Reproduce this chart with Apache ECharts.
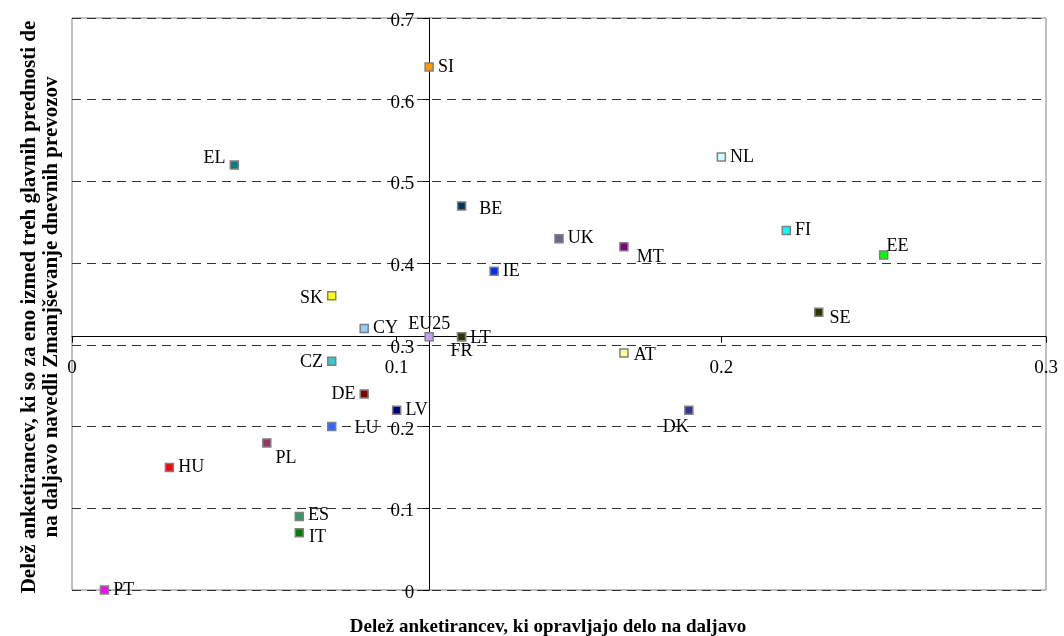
<!DOCTYPE html>
<html><head><meta charset="utf-8">
<script src="https://cdn.jsdelivr.net/npm/echarts@6/dist/echarts.min.js"></script>
<style>html,body{margin:0;padding:0;background:#fff}#c{width:1064px;height:636px}</style>
</head><body><div id="c"></div>
<script>
// ---- data ----
const countries = ['SI','EL','NL','BE','UK','FI','MT','EE','IE','SK','SE','CY','EU25','LT','FR','CZ','AT','DE','LV','DK','LU','PL','HU','ES','IT','PT'];
const shareTeleworkers = [0.11,0.05,0.20,0.12,0.15,0.22,0.17,0.25,0.13,0.08,0.23,0.09,0.11,0.12,0.12,0.08,0.17,0.09,0.10,0.19,0.08,0.06,0.03,0.07,0.07,0.01];
const shareLessCommuting = [0.64,0.52,0.53,0.47,0.43,0.44,0.42,0.41,0.39,0.36,0.34,0.32,0.31,0.31,0.31,0.28,0.29,0.24,0.22,0.22,0.20,0.18,0.15,0.09,0.07,0.00];
const xTicks = [0, 0.1, 0.2, 0.3];
const yTicks = [0, 0.1, 0.2, 0.3, 0.4, 0.5, 0.6, 0.7];
const crossX = 0.11, crossY = 0.31;
const xTitle = 'Delež anketirancev, ki opravljajo delo na daljavo';
const yTitle = ['Delež anketirancev, ki so za eno izmed treh glavnih prednosti de', 'na daljavo navedli Zmanjševanje dnevnih prevozov'];

// ---- styles ----
const colors = {SI:'#FF9900',EL:'#008080',NL:'#CCFFFF',BE:'#003366',UK:'#666699',FI:'#00FFFF',MT:'#800080',EE:'#00FF00',IE:'#0033FF',SK:'#FFFF00',SE:'#333300',CY:'#99CCFF',EU25:'#CC99FF',LT:'#333300',FR:'#333300',CZ:'#33CCCC',AT:'#FFFF99',DE:'#800000',LV:'#000080',DK:'#333399',LU:'#3366FF',PL:'#993366',HU:'#FF0000',ES:'#339966',IT:'#008000',PT:'#FF00FF'};
const labelPos = {
  EL:{position:'left',d:[0,-7]}, SK:{position:'left',d:[0,2]}, CZ:{position:'left',d:[0,1]}, DE:{position:'left'},
  BE:{position:'right',d:[9,3]}, MT:{position:'right',d:[4,10]}, EE:{position:'right',d:[-6,-9]},
  SE:{position:'right',d:[2,6]}, EU25:{position:'top',d:[0,5]}, LT:{position:'right',d:[0,2]},
  FR:{position:'bottom',d:[0,-3]}, DK:{position:'bottom',d:[-13,-1]}, LU:{position:'right',d:[14,2]},
  PL:{position:'right',d:[0,15]}, IT:{position:'right',d:[1,4]}, AT:{position:'right',d:[1,2]}, ES:{position:'right',d:[0,-1]}
};

const W = 1064, H = 636;
const G = {left:72, right:18, top:18, bottom:46};
const gw = W - G.left - G.right, gh = H - G.top - G.bottom;
const serif = '"Liberation Serif", "Times New Roman", serif';
const fmt = v => String(+v.toFixed(1));

const data = countries.map((c,i) => {
  const lp = labelPos[c] || {position:'right'};
  return {
    name: c,
    value: [shareTeleworkers[i], shareLessCommuting[i]],
    itemStyle: {color: colors[c], borderColor:'#808080', borderWidth:1.5, opacity:1},
    label: {show:true, formatter:c, fontFamily:serif, fontSize:18, color:'#000', distance:4, position: lp.position}
  };
});

const chart = echarts.init(document.getElementById('c'), null, {renderer:'canvas'});
chart.setOption({
  animation:false,
  backgroundColor:'#fff',
  grid:{left:G.left, right:G.right, top:G.top, bottom:G.bottom, show:true, borderColor:'#808080', borderWidth:1, backgroundColor:'transparent'},
  xAxis:{
    type:'value', min:xTicks[0], max:xTicks[xTicks.length-1], interval:0.1,
    position:'bottom', offset: -(crossY - yTicks[0])/(yTicks[yTicks.length-1]-yTicks[0])*gh,
    axisLine:{onZero:false, lineStyle:{color:'#000', width:1}},
    axisTick:{show:true, length:6, lineStyle:{color:'#000'}},
    axisLabel:{fontFamily:serif, fontSize:19, color:'#000', margin:22, formatter:fmt},
    splitLine:{show:false}
  },
  yAxis:{
    type:'value', min:yTicks[0], max:yTicks[yTicks.length-1], interval:0.1,
    position:'left', offset: -(crossX - xTicks[0])/(xTicks[xTicks.length-1]-xTicks[0])*gw,
    axisLine:{onZero:false, lineStyle:{color:'#000', width:1}},
    axisTick:{show:true, length:6, lineStyle:{color:'#000'}},
    axisLabel:{color:'#000', margin:15, formatter: v => '{a|' + fmt(v) + '}',
      rich:{a:{fontFamily:serif, fontSize:19, color:'#000', padding:[6,0,0,0]}}},
    splitLine:{show:true, lineStyle:{color:'#333', width:1, type:[9,6]}}
  },
  series:[{
    type:'scatter', symbol:'rect', symbolSize:8, data:data, z:5,
    labelLayout: function(p){
      const lp = labelPos[countries[p.dataIndex]];
      const d = (lp && lp.d) || [0,0];
      return {dx:d[0], dy:d[1], hideOverlap:false};
    }
  }],
  graphic:[
    {type:'text', x: G.left + gw/2 - 11, y: 627, style:{text:xTitle, font:'bold 19px '+serif, fill:'#000', textAlign:'center', textVerticalAlign:'middle'}},
    {type:'text', x: 41, y: 307, rotation: Math.PI/2, style:{text:yTitle.join('\n'), font:'bold 21px '+serif, fill:'#000', textAlign:'center', textVerticalAlign:'middle', lineHeight:22}}
  ]
});
</script></body></html>
